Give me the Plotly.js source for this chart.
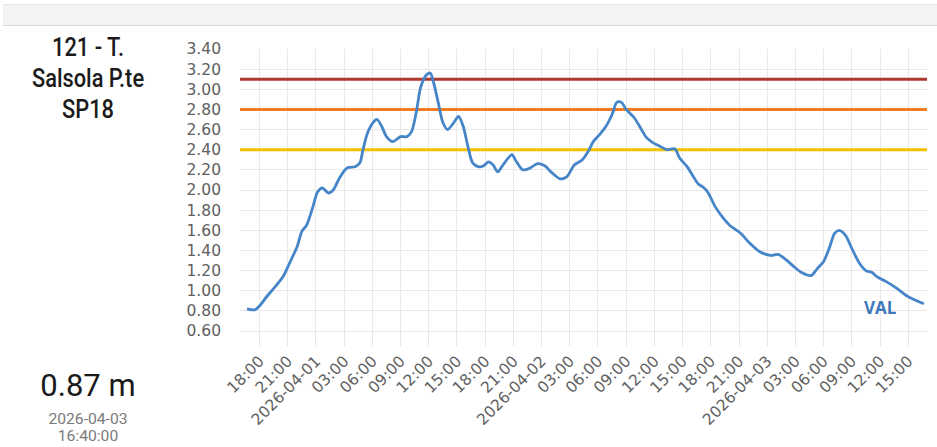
<!DOCTYPE html>
<html>
<head>
<meta charset="utf-8">
<script src="https://cdn.plot.ly/plotly-3.0.1.min.js"></script>
<style>
  html, body { margin: 0; padding: 0; background: #ffffff; }
  #wrap { position: relative; width: 937px; height: 447px; overflow: hidden; }
  #band { position: absolute; left: 3px; top: 4px; width: 934px; height: 20px;
          background: #f3f3f3; border-top: 1px solid #e6e6e6; border-bottom: 1px solid #d9d9d9; z-index: 2; }
  #chart { position: absolute; left: 0; top: 0; width: 937px; height: 447px; z-index: 1; }
  .side { position: absolute; left: 0; width: 176px; text-align: center; z-index: 3; white-space: nowrap; }
  .station { font-family: Roboto, sans-serif; font-size: 26px; font-weight: 500; line-height: 31px; color: #1b1b1b;
             transform: scaleX(0.84); transform-origin: 88px 0; top: 32px; }
  .value { font-family: Roboto, sans-serif; font-size: 31px; line-height: 36px; color: #1a1a1a; top: 368px; }
  .stamp { font-family: Roboto, sans-serif; font-size: 14.5px; line-height: 17px; color: #7a7a7a; top: 411px;
           transform: scaleX(1.08); transform-origin: 88px 0; }
</style>
</head>
<body>
<div id="wrap">
  <div id="band"></div>
  <div id="chart"></div>
  <div id="station" class="side station"></div>
  <div id="value" class="side value"></div>
  <div id="stamp" class="side stamp"></div>
</div>
<script>
// ---------------- DATA ----------------
const stationLines = ['121 - T.', 'Salsola P.te', 'SP18'];
const lastValueText = '0.87 m';
const lastDateText = '2026-04-03';
const lastTimeText = '16:40:00';
const seriesName = 'VAL';

const times = [
  '2026-03-31 16:40','2026-03-31 17:30','2026-03-31 18:00','2026-03-31 18:50','2026-03-31 19:40',
  '2026-03-31 20:30','2026-03-31 21:10','2026-03-31 22:00','2026-03-31 22:30','2026-03-31 23:00',
  '2026-03-31 23:40','2026-04-01 00:10','2026-04-01 00:40','2026-04-01 01:20','2026-04-01 01:50',
  '2026-04-01 02:30','2026-04-01 03:20','2026-04-01 04:10','2026-04-01 04:40','2026-04-01 05:00',
  '2026-04-01 05:30','2026-04-01 06:10','2026-04-01 06:30','2026-04-01 07:00','2026-04-01 07:30',
  '2026-04-01 08:10','2026-04-01 09:00','2026-04-01 09:40','2026-04-01 10:10','2026-04-01 10:40',
  '2026-04-01 11:10','2026-04-01 11:50','2026-04-01 12:10','2026-04-01 12:30','2026-04-01 13:00',
  '2026-04-01 13:30','2026-04-01 14:00','2026-04-01 14:40','2026-04-01 15:10','2026-04-01 15:40',
  '2026-04-01 16:10','2026-04-01 16:40','2026-04-01 17:20','2026-04-01 17:50','2026-04-01 18:20',
  '2026-04-01 18:50','2026-04-01 19:20','2026-04-01 19:50','2026-04-01 20:50','2026-04-01 21:20',
  '2026-04-01 22:00','2026-04-01 22:50','2026-04-01 23:30','2026-04-02 00:20','2026-04-02 01:00',
  '2026-04-02 02:00','2026-04-02 02:40','2026-04-02 03:30','2026-04-02 04:20','2026-04-02 05:00',
  '2026-04-02 05:30','2026-04-02 06:10','2026-04-02 06:50','2026-04-02 07:30','2026-04-02 08:00',
  '2026-04-02 08:30','2026-04-02 09:00','2026-04-02 09:50','2026-04-02 10:30','2026-04-02 11:10',
  '2026-04-02 11:50','2026-04-02 12:40','2026-04-02 13:20','2026-04-02 14:10','2026-04-02 14:40',
  '2026-04-02 15:30','2026-04-02 16:10','2026-04-02 16:40','2026-04-02 17:10','2026-04-02 17:40',
  '2026-04-02 18:30','2026-04-02 19:20','2026-04-02 20:00','2026-04-02 21:10','2026-04-02 22:10',
  '2026-04-02 23:10','2026-04-03 00:20','2026-04-03 01:10','2026-04-03 01:50','2026-04-03 02:50',
  '2026-04-03 03:40','2026-04-03 04:40','2026-04-03 05:20','2026-04-03 06:00','2026-04-03 06:40',
  '2026-04-03 07:10','2026-04-03 07:40','2026-04-03 08:20','2026-04-03 09:00','2026-04-03 09:50',
  '2026-04-03 10:30','2026-04-03 11:10','2026-04-03 11:40','2026-04-03 12:40','2026-04-03 13:50',
  '2026-04-03 14:50','2026-04-03 15:40','2026-04-03 16:40'
];
const levels = [
  0.82,0.81,0.85,0.95,1.04,
  1.14,1.27,1.44,1.59,1.65,
  1.83,1.98,2.02,1.97,2.00,
  2.12,2.22,2.23,2.27,2.40,
  2.57,2.68,2.70,2.63,2.53,
  2.48,2.53,2.53,2.58,2.77,
  3.03,3.15,3.16,3.07,2.87,
  2.67,2.60,2.67,2.73,2.63,
  2.43,2.27,2.23,2.24,2.28,
  2.25,2.18,2.24,2.35,2.28,
  2.20,2.22,2.26,2.24,2.18,
  2.11,2.13,2.25,2.30,2.39,
  2.48,2.55,2.63,2.75,2.87,
  2.87,2.80,2.72,2.62,2.52,
  2.47,2.43,2.40,2.41,2.32,
  2.23,2.13,2.06,2.03,1.98,
  1.83,1.72,1.65,1.57,1.47,
  1.39,1.35,1.36,1.32,1.24,
  1.18,1.15,1.22,1.29,1.44,
  1.57,1.60,1.55,1.42,1.27,
  1.20,1.18,1.14,1.09,1.02,
  0.95,0.91,0.87
];

const thresholdLevels = [3.10, 2.80, 2.40];

const tickVals = [
  '2026-03-31 18:00','2026-03-31 21:00',
  '2026-04-01 00:00','2026-04-01 03:00','2026-04-01 06:00','2026-04-01 09:00',
  '2026-04-01 12:00','2026-04-01 15:00','2026-04-01 18:00','2026-04-01 21:00',
  '2026-04-02 00:00','2026-04-02 03:00','2026-04-02 06:00','2026-04-02 09:00',
  '2026-04-02 12:00','2026-04-02 15:00','2026-04-02 18:00','2026-04-02 21:00',
  '2026-04-03 00:00','2026-04-03 03:00','2026-04-03 06:00','2026-04-03 09:00',
  '2026-04-03 12:00','2026-04-03 15:00'
];
const tickText = [
  '18:00','21:00',
  '2026-04-01','03:00','06:00','09:00','12:00','15:00','18:00','21:00',
  '2026-04-02','03:00','06:00','09:00','12:00','15:00','18:00','21:00',
  '2026-04-03','03:00','06:00','09:00','12:00','15:00'
];

// ---------------- SIDE PANEL TEXT ----------------
document.getElementById('station').innerHTML = stationLines.join('<br>');
document.getElementById('value').textContent = lastValueText;
document.getElementById('stamp').innerHTML = lastDateText + '<br>' + lastTimeText;

// ---------------- STYLE / LAYOUT ----------------
const W = 937, H = 447;
const M = { l: 240, r: 10, t: 49, b: 116 };
const plotW = W - M.l - M.r, plotH = H - M.t - M.b;
const px = x => (x - M.l) / plotW;
const py = y => (H - M.b - y) / plotH;
const xRange = ['2026-03-31 15:55', '2026-04-03 17:00'];

const thresholdColors = ['#b0372c', '#f27b22', '#f3c000'];
const thresholdWidths = [3, 3, 3];

const tickFont = { family: 'DejaVu Sans, sans-serif', size: 15.5, color: '#606060' };

const thresholdTraces = thresholdLevels.map((v, i) => ({
  x: xRange, y: [v, v], type: 'scatter', mode: 'lines', hoverinfo: 'skip',
  line: { color: thresholdColors[i], width: thresholdWidths[i] }, cliponaxis: true
}));

const annotations = [{
  text: '<b>' + seriesName + '</b>', xref: 'paper', yref: 'paper', x: px(880), y: py(307),
  xanchor: 'center', yanchor: 'middle', showarrow: false,
  font: { family: 'Open Sans, sans-serif', size: 17, color: '#3d78bb' }
}];

const trace = {
  x: times, y: levels, type: 'scatter', mode: 'lines', name: seriesName,
  line: { color: '#4585c8', width: 2.8, shape: 'spline', smoothing: 0.8 },
  hoverinfo: 'skip'
};

const layout = {
  width: W, height: H, margin: M,
  paper_bgcolor: 'rgba(0,0,0,0)', plot_bgcolor: '#ffffff',
  showlegend: false,
  xaxis: {
    type: 'date',
    range: xRange,
    tickmode: 'array', tickvals: tickVals, ticktext: tickText,
    tickangle: -45, tickfont: tickFont,
    ticks: 'outside', ticklen: 14, tickcolor: '#e6e6e6', tickwidth: 1,
    showgrid: true, gridcolor: '#e9e9e9', gridwidth: 1,
    showline: true, linecolor: '#e6e6e6', linewidth: 1,
    zeroline: false
  },
  yaxis: {
    range: [0.6, 3.4], dtick: 0.2, tick0: 0.6, tickformat: '.2f',
    tickfont: tickFont, ticks: '', ticklabelstandoff: 18,
    showgrid: true, gridcolor: '#e9e9e9', gridwidth: 1,
    zeroline: false, showline: false
  },
  annotations: annotations
};

Plotly.newPlot('chart', thresholdTraces.concat([trace]), layout, { displayModeBar: false, staticPlot: true });
</script>
</body>
</html>
